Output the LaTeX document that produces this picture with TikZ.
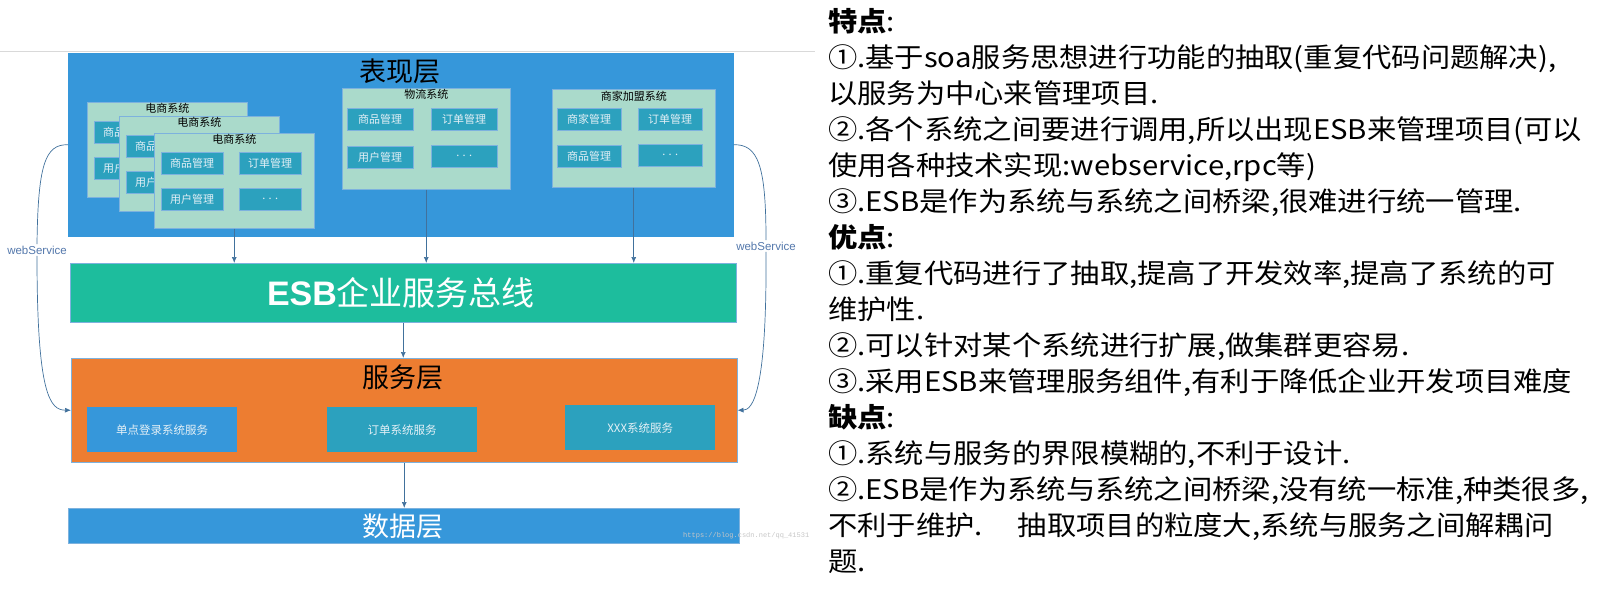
\documentclass[tikz,border=0pt]{standalone}
\usepackage{fontspec}
\setmainfont{Noto Sans CJK SC}
\newfontfamily\cjk{Noto Sans CJK SC}
\newfontfamily\notiz[FakeStretch=1.085]{Noto Sans CJK SC}
\newfontfamily\arial{Liberation Sans}
\newfontfamily\mono{Liberation Mono}
\usetikzlibrary{arrows.meta}

\definecolor{schichtblau}{RGB}{54,151,218}
\definecolor{hellgruen}{RGB}{170,218,203}
\definecolor{tuerkis}{RGB}{44,161,190}
\definecolor{esbgruen}{RGB}{29,189,157}
\definecolor{dienstorange}{RGB}{237,125,49}
\definecolor{pfeilblau}{RGB}{65,113,156}
\definecolor{randhell}{RGB}{125,178,222}
\definecolor{wsblau}{RGB}{84,120,172}
\definecolor{modweiss}{RGB}{228,240,246}

\tikzset{
  schicht/.style={anchor=north west, inner sep=0pt, line width=0.5pt},
  system/.style={anchor=north west, inner sep=0pt, fill=hellgruen, draw=randhell, line width=0.5pt,
    label={[anchor=north, inner sep=1.5pt, font=\cjk\fontsize{11}{12}\selectfont, text=black]north:#1}},
  modul/.style={anchor=north west, inner sep=0pt, fill=tuerkis, draw=randhell, line width=0.4pt,
    text=modweiss, font=\cjk\fontsize{11}{12}\selectfont, minimum width=62pt, minimum height=22pt},
  dienst/.style={anchor=north west, inner sep=0pt, text=modweiss,
    font=\cjk\fontsize{11.5}{12}\selectfont, minimum width=150pt, minimum height=45pt},
  titel/.style={font=\cjk\fontsize{27}{30}\selectfont, inner sep=0pt},
  ws/.style={font=\arial\fontsize{11.5}{12}\selectfont, text=wsblau, fill=white, inner sep=1.5pt},
  pfeil/.style={draw=pfeilblau, line width=0.7pt, -{Latex[length=6pt,width=5pt]}},
  bogen/.style={draw=pfeilblau, line width=0.7pt}
}

\begin{document}
\begin{tikzpicture}[x=1pt, y=-1pt]
	\useasboundingbox (0,0) rectangle (1601,594);
	% die Trennlinie oben
	\draw[gray!30, line width=0.6pt] (0,51) -- (815,51);
	% Praesentationsschicht
	\node[schicht, fill=schichtblau, draw=schichtblau, minimum width=665pt, minimum height=183pt] (oben) at (68,53) {};
	\node[titel] (obenTitel) at (400,71) {表现层};
	% drei Shopsysteme hintereinander
	\node[system={电商系统}, minimum width=160pt, minimum height=95pt] (shopA) at (87,102) {};
	\node[modul] (shopAa) at (94,121) {商品管理};
	\node[modul] (shopAb) at (94,157) {用户管理};
	\node[system={电商系统}, minimum width=160pt, minimum height=95pt] (shopB) at (119,116) {};
	\node[modul] (shopBa) at (126,135) {商品管理};
	\node[modul] (shopBb) at (126,171) {用户管理};
	\node[system={电商系统}, minimum width=160pt, minimum height=95pt] (shopC) at (154,133) {};
	\node[modul] (shopCa) at (161,152) {商品管理};
	\node[modul] (shopCb) at (239,152) {订单管理};
	\node[modul] (shopCc) at (161,188) {用户管理};
	\node[modul] (shopCd) at (239,188) {. . .};
	% Logistik
	\node[system={物流系统}, minimum width=168pt, minimum height=101pt] (logistik) at (342,88) {};
	\node[modul, minimum width=66pt] (logistikA) at (347,108) {商品管理};
	\node[modul, minimum width=66pt] (logistikB) at (431,108) {订单管理};
	\node[modul, minimum width=66pt] (logistikC) at (347,146) {用户管理};
	\node[modul, minimum width=66pt] (logistikD) at (431,145) {. . .};
	% Haendler
	\node[system={商家加盟系统}, minimum width=163pt, minimum height=98pt] (haendler) at (552,89) {};
	\node[modul, minimum width=64pt] (haendlerA) at (557,108) {商家管理};
	\node[modul, minimum width=64pt] (haendlerB) at (638,108) {订单管理};
	\node[modul, minimum width=64pt] (haendlerC) at (557,145) {商品管理};
	\node[modul, minimum width=64pt] (haendlerD) at (638,144) {. . .};
	% ESB
	\node[schicht, fill=esbgruen, draw=randhell, minimum width=666pt, minimum height=59pt] (esb) at (70,263) {};
	\node[text=white, inner sep=0pt] (esbText) at (401,293)
		{{\arial\bfseries\fontsize{34}{36}\selectfont ESB}{\cjk\fontsize{33}{36}\selectfont 企业服务总线}};
	% Dienstschicht
	\node[schicht, fill=dienstorange, draw=randhell, minimum width=666pt, minimum height=104pt] (dienste) at (71,358) {};
	\node[titel] (dienstTitel) at (403,377) {服务层};
	\node[dienst, fill=schichtblau] (sso) at (87,407) {单点登录系统服务};
	\node[dienst, fill=tuerkis] (bestellung) at (327,407) {订单系统服务};
	\node[dienst, fill=tuerkis] (xxx) at (565,405) {XXX系统服务};
	% Datenschicht
	\node[schicht, fill=schichtblau, draw=randhell, minimum width=671pt, minimum height=35pt] (daten) at (68,508) {};
	\node[titel, text=white] (datenTitel) at (403,526) {数据层};
	\node[anchor=west, inner sep=0pt, font=\mono\fontsize{7}{8}\selectfont, text=gray!45] (wasserzeichen) at (683,536) {https://blog.csdn.net/qq\_41531};
	% Pfeile zwischen den Schichten
	\draw[pfeil] (shopC.south) -- (shopC.south |- esb.north);
	\draw[pfeil] (logistik.south) -- (logistik.south |- esb.north);
	\draw[pfeil] (haendler.south) -- (haendler.south |- esb.north);
	\draw[pfeil] (esb.south) -- (esb.south |- dienste.north);
	\draw[pfeil] (dienste.south) -- (dienste.south |- daten.north);
	% webService Boegen
	\node[ws] (wsLinks) at (37,250) {webService};
	\node[ws] (wsRechts) at (766,246) {webService};
	\draw[bogen] (oben.west) .. controls (45,144) and (38,165) .. (wsLinks.north);
	\draw[pfeil] (wsLinks.south) .. controls (37,395) and (50,410) .. (dienste.west);
	\draw[bogen] (oben.east) .. controls (758,144) and (766,165) .. (wsRechts.north);
	\draw[pfeil] (wsRechts.south) .. controls (767,395) and (752,410) .. (dienste.east);
	% der Text rechts
	\node[anchor=north west, align=left, inner sep=0pt, font=\notiz\fontsize{27}{36}\selectfont] (notizen) at (828,8) {%
		\textbf{特点}:\\
		①.基于soa服务思想进行功能的抽取(重复代码问题解决),\\
		以服务为中心来管理项目.\\
		②.各个系统之间要进行调用,所以出现ESB来管理项目(可以\\
		使用各种技术实现:webservice,rpc等)\\
		③.ESB是作为系统与系统之间桥梁,很难进行统一管理.\\
		\textbf{优点}:\\
		①.重复代码进行了抽取,提高了开发效率,提高了系统的可\\
		维护性.\\
		②.可以针对某个系统进行扩展,做集群更容易.\\
		③.采用ESB来管理服务组件,有利于降低企业开发项目难度\\
		\textbf{缺点}:\\
		①.系统与服务的界限模糊的,不利于设计.\\
		②.ESB是作为系统与系统之间桥梁,没有统一标准,种类很多,\\
		不利于维护.\hspace*{1.3em}抽取项目的粒度大,系统与服务之间解耦问\\
		题.};
\end{tikzpicture}
\end{document}
